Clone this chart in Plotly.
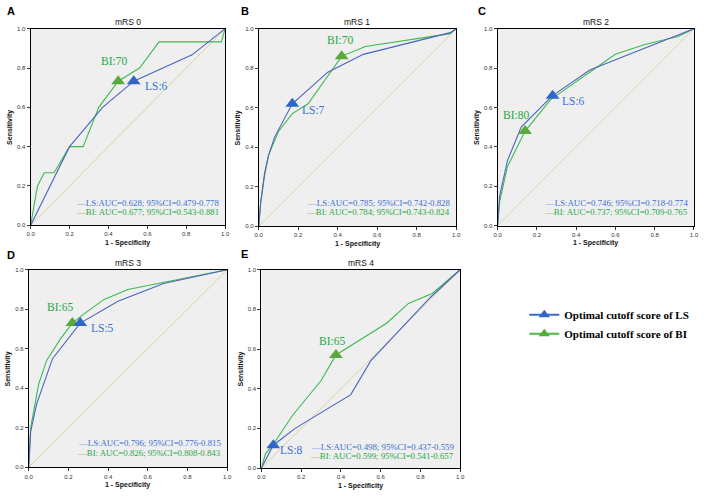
import plotly.graph_objects as go

# ---------------- data ----------------
panels = ["A", "B", "C", "D", "E"]
titles = ["mRS 0", "mRS 1", "mRS 2", "mRS 3", "mRS 4"]

A_ls_x = [0, 0.2, 0.37, 0.53, 0.83, 1]
A_ls_y = [0, 0.4, 0.6, 0.733, 0.867, 1]
A_bi_x = [0, 0.035, 0.07, 0.12, 0.2, 0.27, 0.35, 0.45, 0.56, 0.66, 0.98, 1]
A_bi_y = [0, 0.2, 0.267, 0.267, 0.4, 0.4, 0.6, 0.733, 0.8, 0.933, 0.933, 1]

B_ls_x = [0, 0.01, 0.03, 0.05, 0.08, 0.17, 0.35, 0.53, 0.97, 1]
B_ls_y = [0, 0.12, 0.27, 0.36, 0.45, 0.62, 0.78, 0.87, 0.98, 1]
B_bi_x = [0, 0.01, 0.03, 0.05, 0.1, 0.17, 0.25, 0.42, 0.54, 0.8, 0.97, 1]
B_bi_y = [0, 0.12, 0.26, 0.36, 0.48, 0.57, 0.62, 0.86, 0.91, 0.95, 0.975, 1]

C_ls_x = [0, 0.01, 0.05, 0.12, 0.28, 0.47, 0.62, 0.8, 0.9, 1]
C_ls_y = [0, 0.15, 0.33, 0.5, 0.66, 0.79, 0.85, 0.92, 0.96, 1]
C_bi_x = [0, 0.01, 0.05, 0.14, 0.27, 0.4, 0.6, 0.75, 0.92, 1]
C_bi_y = [0, 0.12, 0.3, 0.48, 0.64, 0.73, 0.87, 0.92, 0.96, 1]

D_ls_x = [0, 0.01, 0.04, 0.12, 0.26, 0.45, 0.68, 1]
D_ls_y = [0, 0.18, 0.32, 0.55, 0.73, 0.84, 0.93, 1]
D_bi_x = [0, 0.01, 0.05, 0.09, 0.16, 0.22, 0.27, 0.38, 0.5, 0.75, 1]
D_bi_y = [0, 0.2, 0.42, 0.54, 0.65, 0.73, 0.77, 0.85, 0.9, 0.95, 1]

E_ls_x = [0, 0.06, 0.17, 0.45, 0.55, 0.7, 0.85, 1]
E_ls_y = [0, 0.115, 0.2, 0.37, 0.54, 0.7, 0.86, 1]
E_bi_x = [0, 0.02, 0.06, 0.16, 0.3, 0.375, 0.63, 0.74, 0.86, 1]
E_bi_y = [0, 0.07, 0.12, 0.27, 0.44, 0.57, 0.73, 0.83, 0.88, 1]

ls_curves = [(A_ls_x, A_ls_y), (B_ls_x, B_ls_y), (C_ls_x, C_ls_y), (D_ls_x, D_ls_y), (E_ls_x, E_ls_y)]
bi_curves = [(A_bi_x, A_bi_y), (B_bi_x, B_bi_y), (C_bi_x, C_bi_y), (D_bi_x, D_bi_y), (E_bi_x, E_bi_y)]

# optimal cutoff points
ls_cut_x = [0.53, 0.17, 0.28, 0.26, 0.06]
ls_cut_y = [0.733, 0.62, 0.66, 0.73, 0.115]
bi_cut_x = [0.45, 0.42, 0.14, 0.22, 0.375]
bi_cut_y = [0.733, 0.86, 0.48, 0.73, 0.57]
ls_cut_label = ["LS:6", "LS:7", "LS:6", "LS:5", "LS:8"]
bi_cut_label = ["BI:70", "BI:70", "BI:80", "BI:65", "BI:65"]
ls_lab_pos = [(0.645, 0.707), (0.277, 0.587), (0.389, 0.633), (0.373, 0.703), (0.15, 0.09)]
bi_lab_pos = [(0.43, 0.836), (0.41, 0.945), (0.092, 0.561), (0.16, 0.813), (0.353, 0.643)]

ls_auc = ["LS:AUC=0.628; 95%CI=0.479-0.778", "LS:AUC=0.785; 95%CI=0.742-0.828",
          "LS:AUC=0.746; 95%CI=0.718-0.774", "LS:AUC=0.796; 95%CI=0.776-0.815",
          "LS:AUC=0.498; 95%CI=0.437-0.559"]
bi_auc = ["BI: AUC=0.677; 95%CI=0.543-0.881", "BI: AUC=0.784; 95%CI=0.743-0.824",
          "BI: AUC=0.737; 95%CI=0.709-0.765", "BI: AUC=0.826; 95%CI=0.808-0.843",
          "BI: AUC=0.599; 95%CI=0.541-0.657"]
auc_y = [(0.114, 0.067), (0.118, 0.072), (0.115, 0.068), (0.122, 0.072), (0.106, 0.061)]

tick_vals = [0, 0.2, 0.4, 0.6, 0.8, 1.0]
tick_text = ["0.0", "0.2", "0.4", "0.6", "0.8", "1.0"]

# ---------------- layout geometry (pixels) ----------------
W, H = 708, 496
boxes = [(27, 224, 26, 225), (258, 458, 26, 226), (500, 698.7, 26, 225.3),
         (25, 226, 270, 470), (260.7, 462, 270, 470.7)]
letter_pos = [(7, 8), (244, 8), (484, 8), (7, 255), (244, 254)]

BLUE_LINE = "#4a64c0"
GREEN_LINE = "#3dba4e"
BLUE_MK = "#2f66c8"
GREEN_MK = "#5aa93c"
BLUE_TXT = "#3a70d2"
GREEN_TXT = "#26a845"
DIAG = "#d8d2a4"

fig = go.Figure()
annotations = []
layout_axes = {}

for i in range(5):
    xa = "x" if i == 0 else f"x{i+1}"
    ya = "y" if i == 0 else f"y{i+1}"
    x0, x1, yt, yb = boxes[i]
    layout_axes[("xaxis" if i == 0 else f"xaxis{i+1}")] = dict(
        domain=[x0 / W, x1 / W], anchor=ya, range=[0, 1],
        tickvals=tick_vals, ticktext=tick_text, ticks="outside", ticklen=3,
        tickcolor="#333", tickfont=dict(family="Liberation Sans", size=6, color="#333"),
        showline=True, linecolor="black", linewidth=1, mirror=True,
        showgrid=False, zeroline=False, fixedrange=True)
    layout_axes[("yaxis" if i == 0 else f"yaxis{i+1}")] = dict(
        domain=[1 - yb / H, 1 - yt / H], anchor=xa, range=[0, 1],
        tickvals=tick_vals, ticktext=tick_text, ticks="outside", ticklen=3,
        tickcolor="#333", tickfont=dict(family="Liberation Sans", size=6, color="#333"),
        showline=True, linecolor="black", linewidth=1, mirror=True,
        showgrid=False, zeroline=False, fixedrange=True)

    # diagonal reference
    fig.add_trace(go.Scatter(x=[0, 1], y=[0, 1], mode="lines", xaxis=xa, yaxis=ya,
                             line=dict(color=DIAG, width=1), showlegend=False, hoverinfo="skip"))
    # curves
    fig.add_trace(go.Scatter(x=bi_curves[i][0], y=bi_curves[i][1], mode="lines", xaxis=xa, yaxis=ya,
                             line=dict(color=GREEN_LINE, width=1.1), showlegend=False))
    fig.add_trace(go.Scatter(x=ls_curves[i][0], y=ls_curves[i][1], mode="lines", xaxis=xa, yaxis=ya,
                             line=dict(color=BLUE_LINE, width=1.1), showlegend=False))
    # cutoff markers
    fig.add_trace(go.Scatter(x=[bi_cut_x[i]], y=[bi_cut_y[i]], mode="markers", xaxis=xa, yaxis=ya,
                             marker=dict(symbol="triangle-up", size=12, color=GREEN_MK,
                                         line=dict(width=0)), showlegend=False))
    fig.add_trace(go.Scatter(x=[ls_cut_x[i]], y=[ls_cut_y[i]], mode="markers", xaxis=xa, yaxis=ya,
                             marker=dict(symbol="triangle-up", size=12, color=BLUE_MK,
                                         line=dict(width=0)), showlegend=False))

    serif = "Liberation Serif"
    annotations.append(dict(x=ls_lab_pos[i][0], y=ls_lab_pos[i][1], xref=xa, yref=ya,
                            xanchor="center", yanchor="middle",
                            text=ls_cut_label[i], showarrow=False,
                            font=dict(family=serif, size=11.5, color=BLUE_TXT)))
    annotations.append(dict(x=bi_lab_pos[i][0], y=bi_lab_pos[i][1], xref=xa, yref=ya,
                            xanchor="center", yanchor="middle",
                            text=bi_cut_label[i], showarrow=False,
                            font=dict(family=serif, size=11.5, color=GREEN_TXT)))
    annotations.append(dict(x=0.978, y=auc_y[i][0], xref=xa, yref=ya, xanchor="right", yanchor="middle",
                            text='<span style="color:#7fb0ea">—</span>' + ls_auc[i], showarrow=False,
                            font=dict(family=serif, size=8.8, color=BLUE_TXT)))
    annotations.append(dict(x=0.978, y=auc_y[i][1], xref=xa, yref=ya, xanchor="right", yanchor="middle",
                            text='<span style="color:#96c878">—</span>' + bi_auc[i], showarrow=False,
                            font=dict(family=serif, size=8.8, color=GREEN_TXT)))

    # title, axis titles, panel letter
    cx = (x0 + x1) / 2
    cy = (yt + yb) / 2
    annotations.append(dict(x=cx / W, y=1 - (yt - 7) / H, xref="paper", yref="paper",
                            xanchor="center", yanchor="middle",
                            text=titles[i], showarrow=False,
                            font=dict(family="Liberation Sans", size=8.5, color="#111")))
    annotations.append(dict(x=cx / W, y=1 - (yb + 18) / H, xref="paper", yref="paper",
                            xanchor="center", yanchor="middle",
                            text="<b>1 - Specificity</b>", showarrow=False,
                            font=dict(family="Liberation Sans", size=7, color="#111")))
    annotations.append(dict(x=(x0 - 21) / W, y=1 - cy / H, xref="paper", yref="paper",
                            xanchor="center", yanchor="middle",
                            text="<b>Sensitivity</b>", showarrow=False, textangle=-90,
                            font=dict(family="Liberation Sans", size=7, color="#111")))
    lx, ly = letter_pos[i]
    annotations.append(dict(x=lx / W, y=1 - ly / H, xref="paper", yref="paper",
                            xanchor="center", yanchor="middle",
                            text="<b>" + panels[i] + "</b>", showarrow=False,
                            font=dict(family="Liberation Sans", size=11, color="black")))

# legend entries
fig.add_trace(go.Scatter(x=[None], y=[None], mode="lines+markers", name="<b>Optimal cutoff score of LS</b>",
                         line=dict(color="#2f6fd0", width=2),
                         marker=dict(symbol="triangle-up", size=10, color=BLUE_MK)))
fig.add_trace(go.Scatter(x=[None], y=[None], mode="lines+markers", name="<b>Optimal cutoff score of BI</b>",
                         line=dict(color="#4cb848", width=2),
                         marker=dict(symbol="triangle-up", size=10, color=GREEN_MK)))

fig.update_layout(
    width=W, height=H, margin=dict(l=0, r=0, t=0, b=0),
    paper_bgcolor="white", plot_bgcolor="#efefef",
    annotations=annotations,
    showlegend=True,
    legend=dict(x=527 / W, y=1 - 301 / H, xanchor="left", yanchor="top",
                bgcolor="rgba(0,0,0,0)", itemwidth=30, tracegroupgap=0,
                font=dict(family="Liberation Serif", size=11, color="black")),
    **layout_axes,
)

fig.write_html("out.html", config={"displayModeBar": False},
               post_script="document.body.style.margin='0px';document.body.style.padding='0px';"
                           "document.documentElement.style.overflow='hidden';")
